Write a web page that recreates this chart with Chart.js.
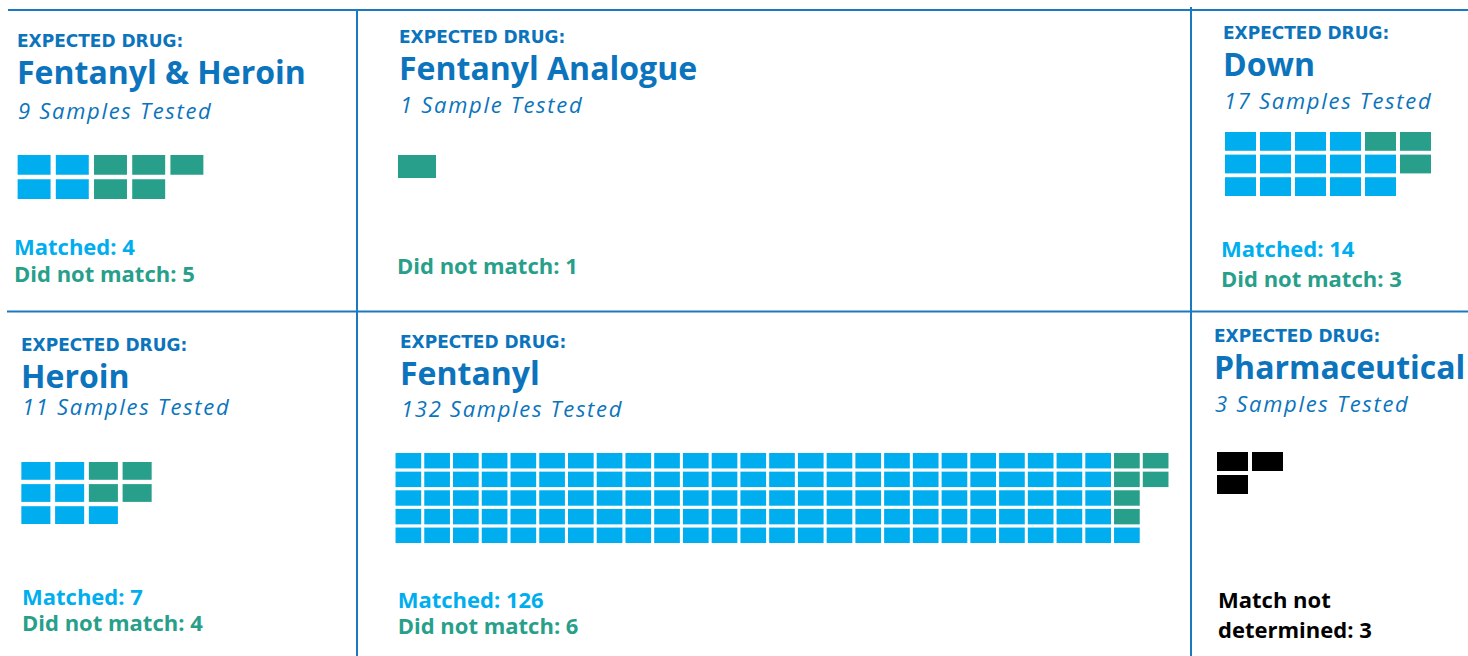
<!DOCTYPE html>
<html>
<head>
<meta charset="utf-8">
<script src="https://cdn.jsdelivr.net/npm/chart.js@4.4.0/dist/chart.umd.min.js"></script>
<style>
  body { margin: 0; width: 1468px; height: 656px; overflow: hidden; background: #fff; position: relative; }
  #labels { position: absolute; left: 0; top: 0; }
  #labels text { font-family: "Open Sans", sans-serif; }
  #labels text.head { font-family: "DejaVu Sans", sans-serif; font-weight: 700; font-size: 17px; fill: #0b74bc; }
  .title { font-weight: 700; font-size: 32px; fill: #0b74bc; }
  .sub { font-style: italic; font-size: 22px; letter-spacing: 1.7px; fill: #0b74bc; }
  .leg { font-weight: 700; font-size: 22px; }
  canvas { position: absolute; }
</style>
</head>
<body>
<svg id="labels" width="1468" height="656">
  <g stroke="#1a79c0" stroke-width="2">
    <line x1="8" y1="10" x2="1468" y2="10"></line>
    <line x1="7" y1="311.5" x2="1468" y2="311.5"></line>
    <line x1="357" y1="10" x2="357" y2="656"></line>
    <line x1="1191" y1="7" x2="1191" y2="656"></line>
  </g>
</svg>
<script>
// data
const drugs = ['Fentanyl & Heroin', 'Fentanyl Analogue', 'Down', 'Heroin', 'Fentanyl', 'Pharmaceutical'];
const matched = [4, 0, 14, 7, 126, 0];
const notMatched = [5, 1, 3, 4, 6, 0];
const undetermined = [0, 0, 0, 0, 0, 3];
const gridRows = [2, 1, 3, 3, 5, 2];

const blue = '#00aeef', green = '#279f8a', black = '#000000';

// where each panel sits (text baselines + waffle cell geometry)
const layout = [
  { x: 17, head: 46.5, title: 84, sub: 118.5, legX: 14, leg: [255, 282], cellX: 18, cellY: 155, pitchX: 38.25, cellW: 33, pitchY: 24, cellH: 19.7 },
  { x: 399, head: 43.3, title: 80, sub: 113.3, legX: 397, leg: [274], cellX: 398, cellY: 155, pitchX: 38, cellW: 38, pitchY: 23, cellH: 23 },
  { x: 1223, head: 39.3, title: 76, sub: 109.3, legX: 1221, leg: [256.7, 286.7], cellX: 1225, cellY: 132, pitchX: 35, cellW: 31, pitchY: 22.5, cellH: 18.7 },
  { x: 21, head: 350.7, title: 388.3, sub: 415, legX: 22, leg: [605, 630.7], cellX: 21, cellY: 462, pitchX: 33.67, cellW: 29, pitchY: 22, cellH: 17.7 },
  { x: 400, head: 348.3, title: 385, sub: 416.7, legX: 397.7, leg: [607.7, 634.3], cellX: 396, cellY: 453, pitchX: 28.75, cellW: 25.7, pitchY: 18.7, cellH: 15.5 },
  { x: 1214, head: 342.3, title: 379.3, sub: 411.7, legX: 1218, leg: [607.7, 638.3], legW: 240, cellX: 1217, cellY: 452, pitchX: 35, cellW: 31, pitchY: 23, cellH: 19 }
];

const svgNS = 'http://www.w3.org/2000/svg';
const svg = document.getElementById('labels');

function addText(str, x, y, cls, fill) {
  const t = document.createElementNS(svgNS, 'text');
  t.setAttribute('x', x);
  t.setAttribute('y', y);
  t.setAttribute('class', cls);
  if (fill) t.setAttribute('fill', fill);
  t.textContent = str;
  svg.appendChild(t);
}

const measure = document.createElement('canvas').getContext('2d');
measure.font = '700 22px "Open Sans"';
function wrap(str, maxW) {
  if (!maxW) return [str];
  const words = str.split(' ');
  const out = [];
  let line = '';
  words.forEach(w => {
    const test = line ? line + ' ' + w : w;
    if (line && measure.measureText(test).width > maxW) { out.push(line); line = w; }
    else line = test;
  });
  out.push(line);
  return out;
}

function drawWaffle(p, L, total) {
  const rows = gridRows[p];
  const cols = Math.ceil(total / rows);
  const h = L.cellH / L.pitchY;
  // cells filled column by column; matched sit at the bottom of each column
  const grid = [];
  let other = 0;
  for (let c = 0; c < cols; c++) {
    const k = Math.min(rows, total - c * rows);
    const m = Math.max(0, Math.min(k, matched[p] - c * rows));
    const col = [];
    for (let r = 0; r < rows; r++) {
      if (r >= k) col.push(null);
      else if (r >= k - m) col.push(blue);
      else { col.push(other < notMatched[p] ? green : black); other++; }
    }
    grid.push(col);
  }

  const datasets = [];
  for (let r = 0; r < rows; r++) {
    datasets.push({
      data: grid.map(col => col[r] ? [r, r + h] : null),
      backgroundColor: grid.map(col => col[r] || 'transparent'),
      grouped: false,
      categoryPercentage: 1,
      barPercentage: L.cellW / L.pitchX,
      borderWidth: 0,
      inflateAmount: 0
    });
  }

  const cv = document.createElement('canvas');
  cv.width = Math.round(cols * L.pitchX);
  cv.height = Math.round((rows - 1) * L.pitchY + L.cellH);
  cv.style.left = Math.round(L.cellX - (L.pitchX - L.cellW) / 2) + 'px';
  cv.style.top = Math.round(L.cellY) + 'px';
  document.body.appendChild(cv);

  new Chart(cv, {
    type: 'bar',
    data: { labels: grid.map((_, c) => c), datasets },
    options: {
      responsive: false,
      animation: false,
      events: [],
      layout: { padding: 0 },
      plugins: { legend: { display: false }, tooltip: { enabled: false } },
      scales: {
        x: { display: false, offset: true },
        y: { display: false, reverse: true, min: 0, max: rows - 1 + h }
      }
    }
  });
}

drugs.forEach((drug, p) => {
  const L = layout[p];
  const total = matched[p] + notMatched[p] + undetermined[p];
  addText('EXPECTED DRUG:', L.x, L.head, 'head');
  addText(drug, L.x, L.title, 'title');
  addText(total + (total === 1 ? ' Sample' : ' Samples') + ' Tested', L.x + 1, L.sub, 'sub');

  const lines = [];
  if (matched[p]) lines.push(['Matched: ' + matched[p], blue]);
  if (notMatched[p]) lines.push(['Did not match: ' + notMatched[p], green]);
  if (undetermined[p]) wrap('Match not determined: ' + undetermined[p], L.legW).forEach(s => lines.push([s, black]));
  lines.forEach((ln, i) => addText(ln[0], L.legX, L.leg[i], 'leg', ln[1]));

  drawWaffle(p, L, total);
});
</script>
</body>
</html>
